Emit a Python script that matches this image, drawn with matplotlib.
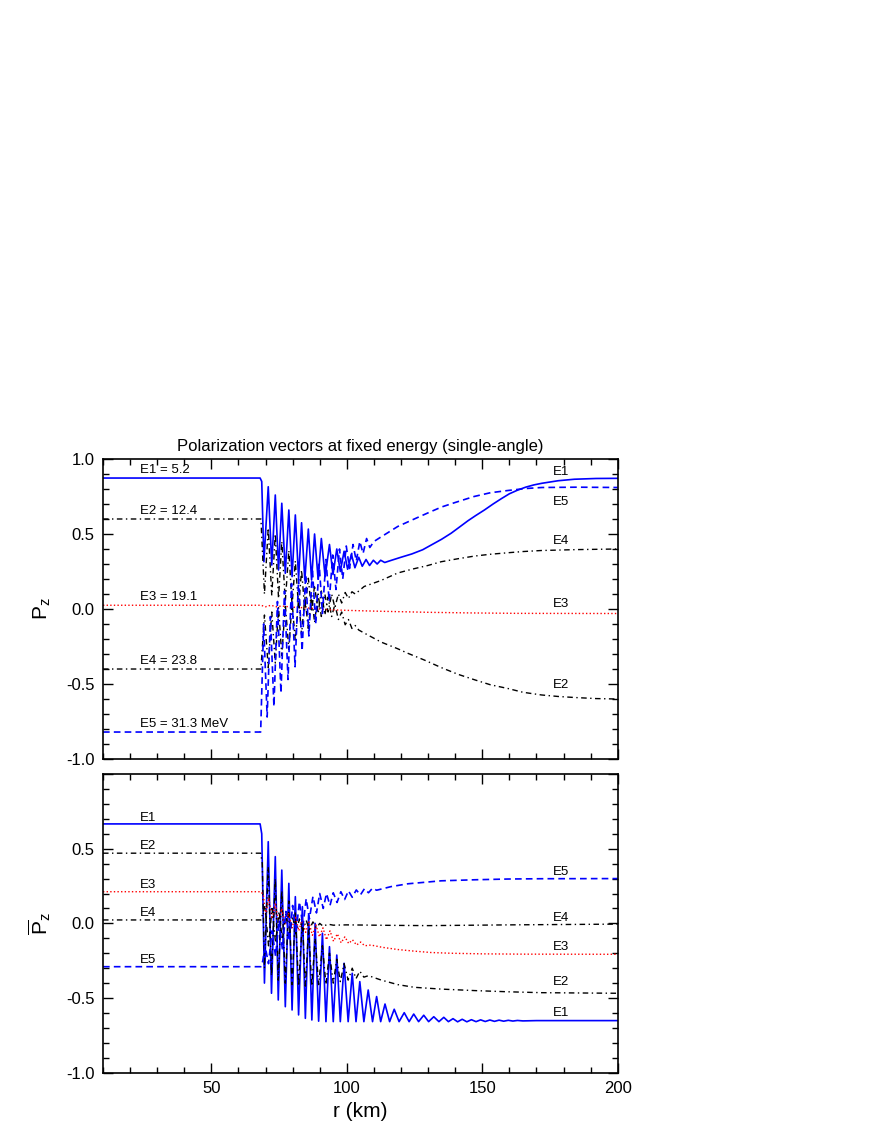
import numpy as np
import matplotlib
matplotlib.use("Agg")
import matplotlib.pyplot as plt
from matplotlib.ticker import MultipleLocator

plt.rcParams['font.family'] = ['Liberation Sans', 'DejaVu Sans']
plt.rcParams['mathtext.fontset'] = 'custom'
plt.rcParams['mathtext.rm'] = 'Liberation Sans'
plt.rcParams['mathtext.it'] = 'Liberation Sans'

# ---- data: (r [km], P_z) pairs, peaks and troughs of the wiggles ----
pz_e1 = [(10, 0.873), (68.0, 0.873), (68.6, 0.85), (69.4, 0.315), (71.0, 0.815), (72.3, 0.293),
         (73.6, 0.76), (74.8, 0.26), (76.0, 0.705), (77.3, 0.238), (78.6, 0.66), (79.8, 0.216),
         (81.0, 0.627), (82.2, 0.204), (83.3, 0.575), (84.5, 0.193), (85.8, 0.533), (87.0, 0.193),
         (88.1, 0.50), (89.4, 0.20), (90.6, 0.47), (92.0, 0.215), (93.6, 0.43), (94.9, 0.23),
         (96.3, 0.40), (97.6, 0.25), (99.0, 0.385), (100.3, 0.265), (101.7, 0.365), (103.0, 0.275),
         (104.4, 0.345), (105.7, 0.285), (107.1, 0.33), (108.4, 0.29), (109.8, 0.325), (111.2, 0.30),
         (112.5, 0.325), (114.0, 0.31), (116, 0.322), (120, 0.345), (124, 0.367), (128, 0.395),
         (132, 0.435), (135, 0.465), (138.5, 0.505), (141.5, 0.545), (144.7, 0.588), (147.5, 0.622),
         (150.8, 0.66), (154, 0.7), (157, 0.735), (160, 0.768), (163, 0.792), (166, 0.812),
         (169, 0.827), (172, 0.838), (178, 0.855), (184, 0.865), (192, 0.87), (200, 0.871)]

pz_e2 = [(10, 0.6), (68.3, 0.6), (69.6, 0.10), (71.0, 0.54), (72.3, 0.09), (73.6, 0.50), (74.8, 0.07),
         (76.0, 0.45), (77.3, 0.05), (78.6, 0.39), (79.8, 0.025), (81.0, 0.32), (82.2, 0.01),
         (83.3, 0.26), (84.5, -0.01), (85.8, 0.205), (87.0, -0.02), (88.1, 0.16), (89.4, -0.03),
         (90.6, 0.12), (91.9, -0.04), (93.1, 0.08), (94.4, -0.05), (95.6, 0.03), (96.9, -0.07),
         (98.1, -0.02), (99.4, -0.105), (100.6, -0.07), (101.9, -0.13), (103.1, -0.11), (104.4, -0.14),
         (106.4, -0.16), (112.6, -0.22), (118.8, -0.265), (122.5, -0.295), (128.6, -0.34),
         (134.8, -0.39), (141, -0.435), (147.2, -0.472), (153, -0.505), (159.5, -0.53),
         (165, -0.555), (171.9, -0.573), (178, -0.583), (184.2, -0.59), (192, -0.597), (200, -0.6)]

pz_e3 = [(10, 0.025), (68.3, 0.025), (70, 0.015), (72, 0.025), (74, 0.015), (76, 0.02), (80, 0.012),
         (85, 0.008), (90, 0.0), (94, -0.005), (100, -0.009), (110, -0.014), (120, -0.018),
         (130, -0.022), (145, -0.026), (163, -0.029), (200, -0.03)]

pz_e4 = [(10, -0.4), (68.3, -0.4), (69.6, -0.04), (71.0, -0.39), (72.3, -0.02), (73.6, -0.36),
         (74.8, 0.01), (76.0, -0.31), (77.3, 0.03), (78.6, -0.27), (79.8, 0.05), (81.0, -0.22),
         (82.2, 0.07), (83.3, -0.17), (84.5, 0.08), (85.8, -0.13), (87.0, 0.09), (88.1, -0.09),
         (89.4, 0.10), (90.6, -0.05), (91.9, 0.10), (93.1, -0.02), (94.4, 0.10), (95.6, 0.01),
         (96.9, 0.10), (98.1, 0.04), (99.4, 0.11), (100.6, 0.07), (101.9, 0.115), (103.1, 0.10),
         (106.4, 0.15), (112.6, 0.19), (118.8, 0.24), (124, 0.265), (129.9, 0.29), (134.8, 0.315),
         (141, 0.335), (147.2, 0.353), (153, 0.365), (159.5, 0.375), (165, 0.383), (171.9, 0.39),
         (185, 0.396), (200, 0.4)]

pz_e5 = [(10, -0.82), (68.2, -0.82), (69.3, -0.1), (70.6, -0.72), (71.8, -0.05), (73.1, -0.65),
         (74.4, 0.05), (75.7, -0.56), (77.0, 0.12), (78.3, -0.47), (79.6, 0.17), (80.9, -0.385),
         (82.2, 0.2), (83.5, -0.28), (84.8, 0.23), (86.0, -0.18), (87.3, 0.27), (88.5, -0.1),
         (89.8, 0.3), (91.0, -0.03), (92.3, 0.33), (93.5, 0.05), (94.8, 0.36), (96.0, 0.13),
         (97.3, 0.4), (98.5, 0.2), (99.8, 0.42), (101.0, 0.27), (102.3, 0.43), (103.5, 0.32),
         (104.8, 0.45), (106.0, 0.37), (107.3, 0.47), (108.5, 0.41), (110, 0.45), (112.6, 0.48),
         (118.8, 0.55), (124.9, 0.6), (130.5, 0.645), (135, 0.68), (140, 0.71), (147, 0.75),
         (153, 0.775), (159.5, 0.79), (166, 0.803), (172, 0.81), (185, 0.812), (200, 0.81)]

# ---- antineutrinos ----
pbz_e1 = [(10, 0.666), (68.0, 0.666), (68.6, 0.6), (69.6, -0.40), (71.0, 0.547), (72.2, -0.468),
          (73.6, 0.447), (74.7, -0.513), (76.0, 0.357), (77.3, -0.558), (78.6, 0.268), (79.8, -0.58),
          (81.0, 0.179), (82.2, -0.613), (83.6, 0.112), (84.7, -0.636), (85.9, 0.056), (87.1, -0.647),
          (88.3, 0.0), (89.6, -0.655), (91.0, -0.066), (92.3, -0.658), (93.6, -0.156), (95.0, -0.658),
          (96.3, -0.212), (97.6, -0.658), (99.0, -0.267), (100.5, -0.658), (102.0, -0.334),
          (103.4, -0.658), (104.8, -0.39), (106.3, -0.658), (107.9, -0.446), (109.5, -0.658),
          (111.0, -0.49), (112.5, -0.658), (114.1, -0.54), (115.8, -0.658), (117.5, -0.575),
          (119.3, -0.658), (121.2, -0.598), (123.0, -0.658), (124.7, -0.607), (126.5, -0.658),
          (128.4, -0.615), (130.2, -0.658), (132.1, -0.625), (134.0, -0.658), (135.8, -0.629),
          (137.5, -0.658), (139.2, -0.638), (140.9, -0.659), (142.6, -0.642), (144.3, -0.659),
          (146.0, -0.645), (147.7, -0.658), (149.4, -0.646), (151.1, -0.657), (152.8, -0.647),
          (154.5, -0.656), (156.2, -0.648), (157.9, -0.655), (159.6, -0.649), (161.3, -0.654),
          (163, -0.65), (165, -0.653), (170, -0.651), (200, -0.651)]

pbz_e2 = [(10, 0.47), (68.2, 0.47), (68.8, 0.4), (69.6, -0.30), (71.0, 0.38), (72.2, -0.35),
          (73.6, 0.30), (74.7, -0.38), (76.0, 0.22), (77.3, -0.40), (78.6, 0.15), (79.8, -0.41),
          (81.0, 0.08), (82.2, -0.42), (83.6, 0.02), (84.7, -0.42), (85.9, -0.04), (87.1, -0.42),
          (88.3, -0.10), (89.6, -0.41), (91.0, -0.15), (92.3, -0.41), (93.6, -0.20), (95.0, -0.40),
          (96.3, -0.24), (97.6, -0.39), (99.0, -0.27), (100.5, -0.38), (102.0, -0.30), (103.4, -0.37),
          (104.8, -0.32), (106.3, -0.36), (108, -0.35), (112.6, -0.379), (118.8, -0.41),
          (124.9, -0.428), (134.8, -0.44), (147.2, -0.45), (159.5, -0.458), (171.9, -0.464),
          (200, -0.468)]

pbz_e3 = [(10, 0.212), (68.3, 0.212), (69.2, 0.19), (70.0, 0.06), (71.2, 0.17), (72.4, 0.03),
          (73.6, 0.13), (74.8, 0.01), (76.0, 0.10), (77.2, -0.01), (78.5, 0.07), (79.8, -0.03),
          (81.0, 0.05), (82.3, -0.05), (83.5, 0.03), (84.8, -0.06), (86.0, 0.01), (87.3, -0.08),
          (88.6, -0.01), (89.9, -0.09), (91.2, -0.03), (92.5, -0.11), (93.8, -0.05), (95.1, -0.12),
          (96.5, -0.07), (97.9, -0.13), (99.3, -0.09), (100.7, -0.135), (102.1, -0.11),
          (103.6, -0.145), (105.1, -0.125), (106.6, -0.15), (108.9, -0.145), (113, -0.16),
          (118.8, -0.175), (125, -0.186), (131, -0.195), (138.5, -0.2), (150, -0.204),
          (165, -0.206), (200, -0.207)]

pbz_e4 = [(10, 0.023), (68.3, 0.023), (69.8, 0.12), (71.1, -0.15), (72.4, 0.10), (73.7, -0.13),
          (75.0, 0.08), (76.2, -0.11), (77.5, 0.06), (78.8, -0.09), (80.0, 0.05), (81.2, -0.07),
          (82.5, 0.03), (83.8, -0.05), (85.0, 0.02), (86.2, -0.04), (87.5, 0.01), (88.8, -0.03),
          (90.0, 0.0), (91.3, -0.02), (93, -0.005), (95, -0.012), (100, -0.01), (115, -0.013),
          (130, -0.015), (160, -0.01), (200, -0.005)]

pbz_e5 = [(10, -0.29), (68.3, -0.29), (69.0, -0.25), (69.8, -0.15), (71.1, -0.27), (72.4, -0.05),
          (73.7, -0.22), (75.0, 0.02), (76.2, -0.17), (77.5, 0.08), (78.8, -0.12), (80.0, 0.12),
          (81.2, -0.07), (82.5, 0.145), (83.8, -0.02), (85.0, 0.165), (86.2, 0.03), (87.5, 0.18),
          (88.8, 0.07), (90.0, 0.2), (91.3, 0.1), (92.5, 0.2), (93.8, 0.12), (95.0, 0.205),
          (96.4, 0.14), (97.8, 0.212), (99.2, 0.16), (100.6, 0.218), (102.0, 0.175), (103.5, 0.224),
          (105.0, 0.19), (106.5, 0.232), (108.0, 0.205), (109.5, 0.236), (111.0, 0.222),
          (116.3, 0.246), (122.5, 0.265), (134.8, 0.285), (147.2, 0.292), (159.5, 0.297),
          (171.9, 0.299), (200, 0.3)]

energies = ["E1 = 5.2", "E2 = 12.4", "E3 = 19.1", "E4 = 23.8", "E5 = 31.3 MeV"]
short = ["E1", "E2", "E3", "E4", "E5"]
ytick_vals = [-1.0, -0.5, 0.0, 0.5, 1.0]
ytick_top = ["-1.0", "-0.5", "0.0", "0.5", "1.0"]
ytick_bot = ["-1.0", "-0.5", "0.0", "0.5", ""]
xtick_vals = [50, 100, 150, 200]

BLUE = (0, 0, 1)
RED = (1, 0, 0)
styles = [dict(color=BLUE, ls='-', lw=1.2),
          dict(color='k', ls=(0, (4, 2.5, 1, 2.5)), lw=1.0),
          dict(color=RED, ls=(0, (1, 1.6)), lw=1.0),
          dict(color='k', ls=(0, (4, 2.5, 1, 2.5)), lw=1.0),
          dict(color=BLUE, ls=(0, (4, 2.5)), lw=1.2)]


def style_axes(ax, ylabels):
    ax.set_xlim(10, 200)
    ax.set_ylim(-1, 1)
    ax.set_xticks(xtick_vals)
    ax.xaxis.set_minor_locator(MultipleLocator(10))
    ax.set_yticks(ytick_vals)
    ax.set_yticklabels(ylabels)
    ax.yaxis.set_minor_locator(MultipleLocator(0.1))
    ax.tick_params(which='both', direction='in', top=True, right=True, width=1.0,
                   labelsize=12, pad=6)
    ax.tick_params(which='major', length=7.2)
    ax.tick_params(which='minor', length=4)
    for s in ax.spines.values():
        s.set_linewidth(1.2)


fig = plt.figure(figsize=(8.72, 11.28), dpi=100)
ax1 = fig.add_axes([0.1181, 0.3271, 0.5903, 0.2660])
ax2 = fig.add_axes([0.1181, 0.0490, 0.5903, 0.2648])

for data, st in zip([pz_e1, pz_e2, pz_e3, pz_e4, pz_e5], styles):
    r, v = np.array(data).T
    ax1.plot(r, v, **st)
for data, st in zip([pbz_e1, pbz_e2, pbz_e3, pbz_e4, pbz_e5], styles):
    r, v = np.array(data).T
    ax2.plot(r, v, **st)

style_axes(ax1, ytick_top)
style_axes(ax2, ytick_bot)
ax1.set_xticklabels([])
ax2.set_xticklabels([str(x) for x in xtick_vals])

# labels on the curves
fs = 9.5
left_top = [0.927, 0.65, 0.08, -0.347, -0.767]
right_top = [0.915, -0.507, 0.033, 0.453, 0.715]
left_bot = [0.704, 0.518, 0.257, 0.072, -0.245]
right_bot = [-0.60, -0.394, -0.156, 0.038, 0.346]
for i in range(5):
    ax1.text(23.7, left_top[i], energies[i], fontsize=fs, va='center')
    ax1.text(175.9, right_top[i], short[i], fontsize=fs, va='center')
    ax2.text(23.7, left_bot[i], short[i], fontsize=fs, va='center')
    ax2.text(175.9, right_bot[i], short[i], fontsize=fs, va='center')

ax1.set_title("Polarization vectors at fixed energy (single-angle)", fontsize=12, pad=6)
ax1.set_ylabel(r"P$_\mathrm{z}$", fontsize=15)
ax2.set_ylabel(r"$\overline{\mathrm{P}}_\mathrm{z}$", fontsize=15)
ax1.yaxis.set_label_coords(-0.097, 0.5)
ax2.yaxis.set_label_coords(-0.097, 0.5)
ax2.set_xlabel("r (km)", fontsize=15, labelpad=4)

fig.savefig("out.png", dpi=100)
